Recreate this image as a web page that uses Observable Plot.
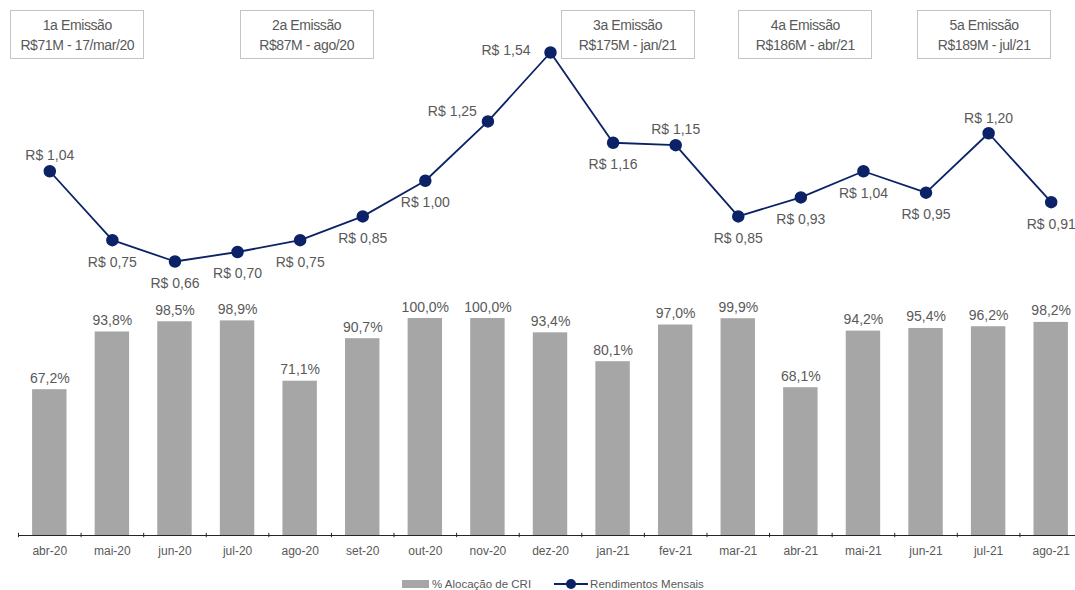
<!DOCTYPE html>
<html>
<head>
<meta charset="utf-8">
<script src="https://cdn.jsdelivr.net/npm/d3@7"></script>
<script src="https://cdn.jsdelivr.net/npm/@observablehq/plot@0.6"></script>
<style>
  html, body { margin: 0; padding: 0; background: #fff; }
  #wrap { position: relative; width: 1075px; height: 590px; font-family: "Liberation Sans", Arial, sans-serif; color: #595959; }
  #wrap svg { position: absolute; left: 0; top: 0; overflow: visible; }
  .box { position: absolute; box-sizing: border-box; width: 134px; height: 49px; border: 1.5px solid #c4c4c4; background: #fff;
         text-align: center; font-size: 14px; line-height: 20px; padding-top: 4px; letter-spacing: -0.4px; color: #595959; }
  #legend { position: absolute; top: 576px; left: 402px; display: flex; align-items: center;
            font-size: 11.5px; color: #595959; line-height: 16px; }
  #legend .item { display: flex; align-items: center; }
</style>
</head>
<body>
<div id="wrap"></div>
<script>
// ---- Data ----
const months = ["abr-20","mai-20","jun-20","jul-20","ago-20","set-20","out-20","nov-20","dez-20",
                "jan-21","fev-21","mar-21","abr-21","mai-21","jun-21","jul-21","ago-21"];
const alocacao = [67.2, 93.8, 98.5, 98.9, 71.1, 90.7, 100.0, 100.0, 93.4, 80.1, 97.0, 99.9, 68.1, 94.2, 95.4, 96.2, 98.2];
const rendimentos = [1.04, 0.75, 0.66, 0.70, 0.75, 0.85, 1.00, 1.25, 1.54, 1.16, 1.15, 0.85, 0.93, 1.04, 0.95, 1.20, 0.91];
const emissoesTitulo = ["1a Emissão", "2a Emissão", "3a Emissão", "4a Emissão", "5a Emissão"];
const emissoesValor = ["R$71M - 17/mar/20", "R$87M - ago/20", "R$175M - jan/21", "R$186M - abr/21", "R$189M - jul/21"];
const emissoesMes = ["abr-20", "ago-20", "jan-21", "abr-21", "jul-21"];
const seriesNames = ["% Alocação de CRI", "Rendimentos Mensais"];

// ---- Build ----
const fmtPct = v => v.toFixed(1).replace(".", ",") + "%";
const fmtBRL = v => "R$ " + v.toFixed(2).replace(".", ",");
const rows = months.map((m, i) => ({m, a: alocacao[i], r: rendimentos[i]}));

const W = 1075, H = 565;
const xRange = [18, 1082];
const step = (xRange[1] - xRange[0]) / months.length;
const xScale = {type: "band", domain: months, range: xRange, round: false, paddingInner: 0.45, paddingOuter: 0.225};
const font = "Liberation Sans, Arial, sans-serif";
const textColor = "#595959";
const barColor = "#a6a6a6";
const lineColor = "#0b2266";

const bars = Plot.plot({
  width: W, height: H,
  marginLeft: 18, marginRight: 0, marginTop: 0, marginBottom: 30,
  style: {fontFamily: font, color: textColor, background: "transparent", overflow: "visible"},
  x: xScale,
  y: {domain: [0, 100], range: [535, 318], axis: null},
  marks: [
    Plot.barY(rows, {x: "m", y: "a", fill: barColor}),
    Plot.text(rows, {x: "m", y: "a", text: d => fmtPct(d.a), lineAnchor: "bottom", dy: -7,
                     fontSize: 14, fill: textColor, letterSpacing: -0.3}),
    Plot.ruleY([0], {stroke: "#262626", strokeWidth: 1}),
    Plot.ruleX(months, {x: d => d, dx: -step / 2, y1: -1, y2: 1, stroke: "#262626", strokeWidth: 1}),
    Plot.axisX({tickSize: 0, tickPadding: 11, fontSize: 12, fill: textColor, label: null})
  ]
});

// label placement around each point (styling only)
const place = {
  "abr-20": [0, -16], "nov-20": [-11, -10], "dez-20": [-20, -2],
  "fev-21": [0, -16], "jul-21": [0, -15]
};
const below = [0, 22];
const groups = {};
rows.forEach(d => {
  const p = place[d.m] || below;
  const key = p.join(",");
  (groups[key] = groups[key] || {p, data: []}).data.push(d);
});
const labelMarks = Object.values(groups).map(g =>
  Plot.text(g.data, {x: "m", y: "r", text: d => fmtBRL(d.r), dx: g.p[0], dy: g.p[1],
                     textAnchor: g.p[0] < 0 ? "end" : "middle",
                     fontSize: 14, fill: textColor, letterSpacing: -0.3}));

const line = Plot.plot({
  width: W, height: H,
  marginLeft: 18, marginRight: 0, marginTop: 0, marginBottom: 30,
  style: {fontFamily: font, color: textColor, background: "transparent", overflow: "visible"},
  x: {...xScale, axis: null},
  y: {domain: [0.66, 1.54], range: [261, 52], axis: null},
  marks: [
    Plot.line(rows, {x: "m", y: "r", stroke: lineColor, strokeWidth: 1.8}),
    Plot.dot(rows, {x: "m", y: "r", r: 5.5, fill: lineColor, stroke: lineColor}),
    ...labelMarks
  ]
});

const wrap = document.getElementById("wrap");
wrap.appendChild(bars);
wrap.appendChild(line);

// emission boxes positioned with the plot's x scale
const xs = line.scale("x");
const boxShift = {"abr-20": 28, "ago-20": 7, "jan-21": 15, "abr-21": 5, "jul-21": -4};
emissoesMes.forEach((m, i) => {
  const cx = xs.apply(m) + xs.bandwidth / 2 + boxShift[m];
  const div = document.createElement("div");
  div.className = "box";
  div.style.left = (cx - 67) + "px";
  div.style.top = "10px";
  div.innerHTML = emissoesTitulo[i] + "<br>" + emissoesValor[i];
  wrap.appendChild(div);
});

// legend
const legend = document.createElement("div");
legend.id = "legend";
legend.innerHTML =
  `<div class="item"><svg width="27" height="10" style="position:static;margin-right:3px"><rect x="0" y="1" width="27" height="8" fill="${barColor}"/></svg>${seriesNames[0]}</div>` +
  `<div class="item" style="margin-left:23px"><svg width="34" height="12" style="position:static;margin-right:2px"><line x1="0" x2="34" y1="6" y2="6" stroke="${lineColor}" stroke-width="1.8"/><circle cx="17" cy="6" r="5" fill="${lineColor}"/></svg>${seriesNames[1]}</div>`;
wrap.appendChild(legend);
</script>
</body>
</html>
